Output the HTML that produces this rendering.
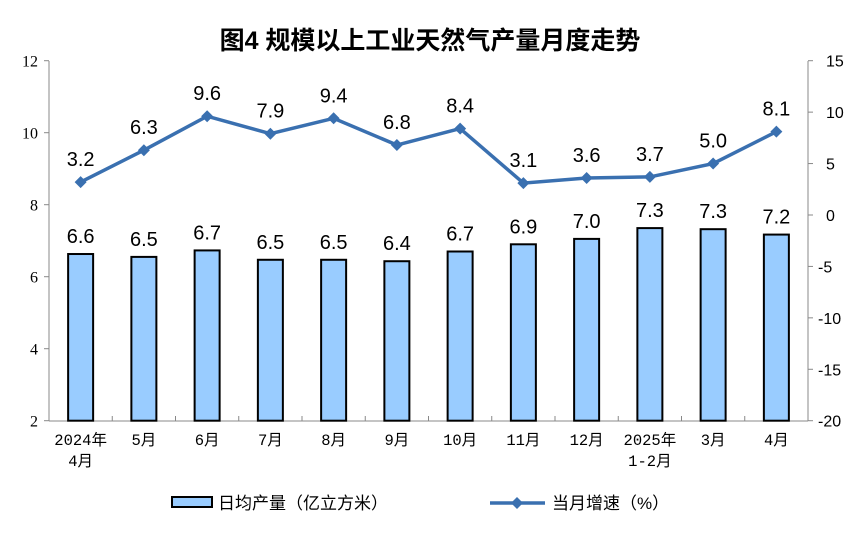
<!DOCTYPE html>
<html><head><meta charset="utf-8"><style>
body{margin:0;background:#fff;}
svg text{font-family:"Liberation Sans","Noto Sans CJK SC",sans-serif;}
.ax{font-family:"Liberation Serif",serif;font-size:16px;fill:#000}
.cat{font-family:"Liberation Mono","Noto Sans CJK SC",monospace;font-size:15.5px;fill:#000}
.dl{font-size:20px;fill:#000}
</style></head><body>
<svg width="865" height="542" xmlns="http://www.w3.org/2000/svg">
<text x="430" y="49" text-anchor="middle" font-size="25" font-weight="bold" style="font-family:'Liberation Sans','Noto Sans CJK SC',sans-serif">图4  规模以上工业天然气产量月度走势</text>
<g stroke="#888" stroke-width="1">
<line x1="49" y1="61" x2="49" y2="421"/>
<line x1="808" y1="61" x2="808" y2="421"/>
<line x1="49" y1="421" x2="808" y2="421"/>
</g>
<g id="ticks" stroke="#888"></g>
<g id="g"></g>
<rect x="172" y="497" width="40" height="10" fill="#99ccff" stroke="#000" stroke-width="2"/>
<text x="218" y="509" font-size="17">日均产量（亿立方米）</text>
<line x1="490" y1="503" x2="545" y2="503" stroke="#3a70b0" stroke-width="3.5"/>
<path d="M517 497 L523 503 L517 509 L511 503Z" fill="#3a70b0"/>
<text x="552" y="509" font-size="17">当月增速（%）</text>
</svg>
<script>
const g=document.getElementById('g'),t=document.getElementById('ticks');
let h='',tk='';
const bars=[6.63,6.55,6.73,6.47,6.47,6.43,6.7,6.9,7.05,7.35,7.32,7.17];
const bl=['6.6','6.5','6.7','6.5','6.5','6.4','6.7','6.9','7.0','7.3','7.3','7.2'];
const ln=[3.2,6.3,9.6,7.9,9.4,6.8,8.4,3.1,3.6,3.7,5.0,8.1];
const cats=[['2024年','4月'],['5月'],['6月'],['7月'],['8月'],['9月'],['10月'],['11月'],['12月'],['2025年','1-2月'],['3月'],['4月']];
const cw=(808-49)/12;
const yl=v=>420.7-(v-2)*36, yr=v=>60.7+(15-v)*10.286;
for(let v=2;v<=12;v+=2){const y=yl(v);tk+=`<line x1="44" y1="${y}" x2="49" y2="${y}"/>`;h+=`<text class="ax" x="${v<10?30:22}" y="${y+6}">${v}</text>`;}
for(let v=-20;v<=15;v+=5){const y=yr(v);tk+=`<line x1="808" y1="${y}" x2="813" y2="${y}"/>`;h+=`<text class="ax" x="${v<0?818:826}" y="${y+6}" style="font-family:'Liberation Sans',sans-serif;font-size:16px">${v}</text>`;}
for(let i=0;i<=12;i++){const x=49+i*cw;tk+=`<line x1="${x}" y1="421" x2="${x}" y2="416"/>`;}
let pts=[];
for(let i=0;i<12;i++){const c=49+cw*(i+0.5);const y=yl(bars[i]);
h+=`<rect x="${c-12.5}" y="${y}" width="25" height="${420.7-y}" fill="#99ccff" stroke="#000" stroke-width="2"/>`;
h+=`<text class="dl" x="${c}" y="${y-11}" text-anchor="middle">${bl[i]}</text>`;
const yy=yr(ln[i]);pts.push(c+','+yy);
h+=`<text class="dl" x="${c}" y="${yy-16}" text-anchor="middle">${ln[i].toFixed(1)}</text>`;
cats[i].forEach((s,k)=>h+=`<text class="cat" x="${c}" y="${445+k*21}" text-anchor="middle">${s}</text>`);}
h+=`<polyline points="${pts.join(' ')}" fill="none" stroke="#3a70b0" stroke-width="3.5"/>`;
pts.forEach(p=>{const [x,y]=p.split(',').map(Number);h+=`<path d="M${x} ${y-6}L${x+6} ${y}L${x} ${y+6}L${x-6} ${y}Z" fill="#3a70b0"/>`;});
g.innerHTML=h;t.innerHTML=tk;
</script>
</body></html>
